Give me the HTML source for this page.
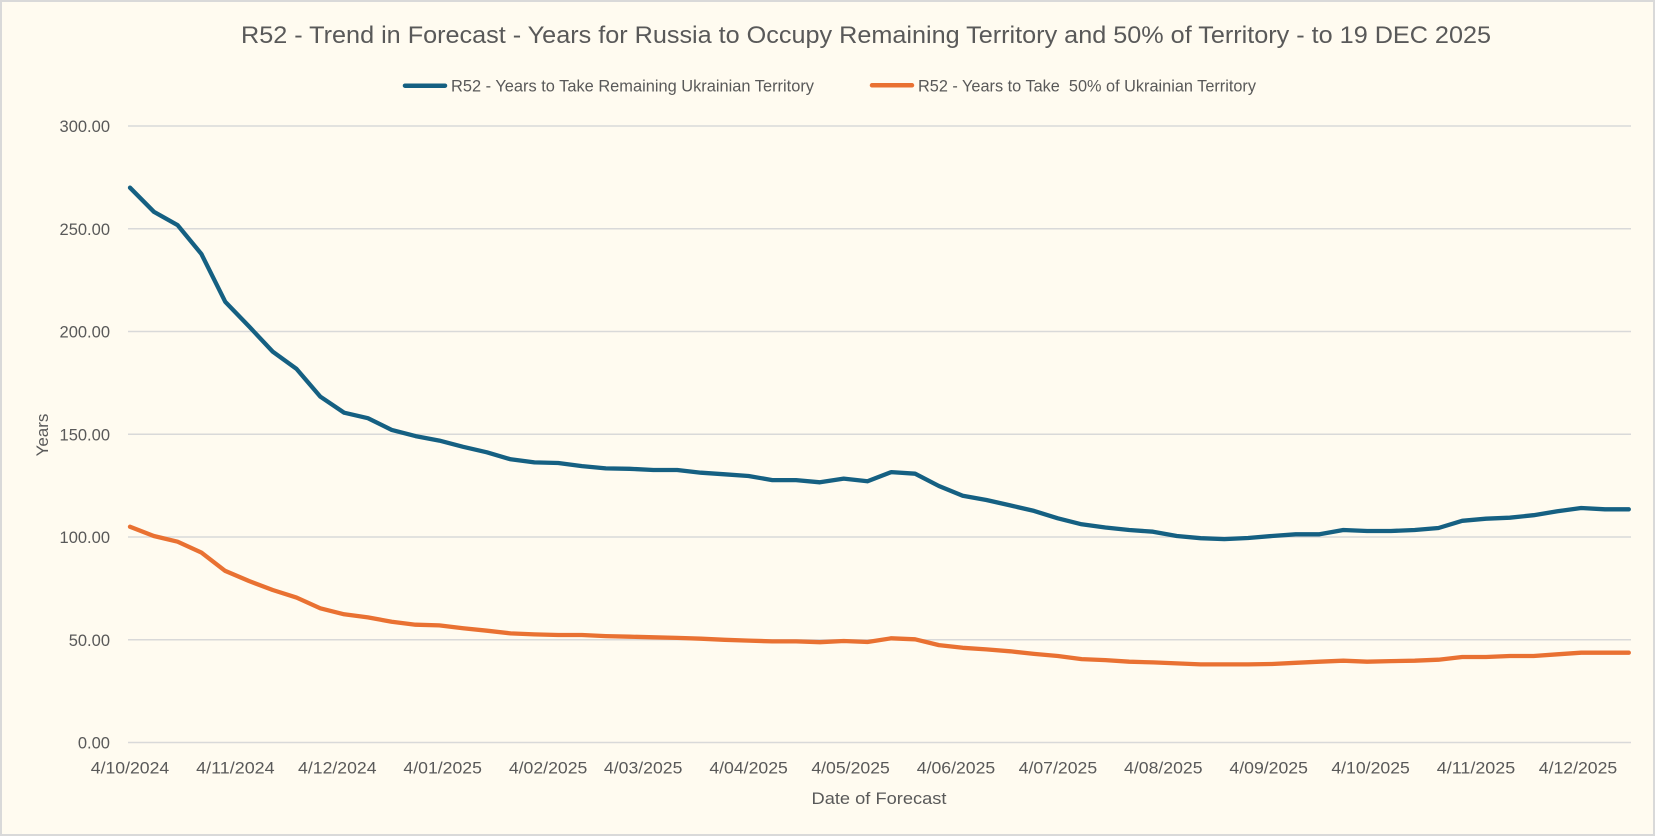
<!DOCTYPE html>
<html>
<head>
<meta charset="utf-8">
<style>
  html, body { margin: 0; padding: 0; background: #fffbf0; }
  svg { display: block; }
  text { font-family: "Liberation Sans", Arial, sans-serif; fill: #595959; }
</style>
</head>
<body>
<svg width="1655" height="836" viewBox="0 0 1655 836" xmlns="http://www.w3.org/2000/svg">
  <rect x="0" y="0" width="1655" height="836" fill="#fffbf0"/>
  <rect x="1" y="1" width="1653" height="834" fill="none" stroke="#d9d9d9" stroke-width="2"/>

  <!-- Title -->
  <text x="241" y="43" font-size="24" textLength="1250" lengthAdjust="spacingAndGlyphs">R52 - Trend in Forecast - Years for Russia to Occupy Remaining Territory and 50% of Territory - to 19 DEC 2025</text>

  <!-- Legend -->
  <line x1="405" y1="85.7" x2="445" y2="85.7" stroke="#156082" stroke-width="4.5" stroke-linecap="round"/>
  <text x="451" y="91.5" font-size="16.5" textLength="363" lengthAdjust="spacingAndGlyphs">R52 - Years to Take Remaining Ukrainian Territory</text>
  <line x1="872" y1="85.3" x2="912" y2="85.3" stroke="#e97132" stroke-width="4.5" stroke-linecap="round"/>
  <text x="918" y="91.5" font-size="16.5" textLength="338" lengthAdjust="spacingAndGlyphs">R52 - Years to Take&#160; 50% of Ukrainian Territory</text>

  <!-- Gridlines -->
  <g stroke="#d9d9d9" stroke-width="1.6">
    <line x1="128" y1="126" x2="1631" y2="126"/>
    <line x1="128" y1="228.75" x2="1631" y2="228.75"/>
    <line x1="128" y1="331.5" x2="1631" y2="331.5"/>
    <line x1="128" y1="434.25" x2="1631" y2="434.25"/>
    <line x1="128" y1="537" x2="1631" y2="537"/>
    <line x1="128" y1="639.75" x2="1631" y2="639.75"/>
    <line x1="128" y1="742.5" x2="1631" y2="742.5"/>
  </g>

  <!-- Y tick labels -->
  <g font-size="16.5" text-anchor="end">
    <text x="110" y="132">300.00</text>
    <text x="110" y="234.75">250.00</text>
    <text x="110" y="337.5">200.00</text>
    <text x="110" y="440.25">150.00</text>
    <text x="110" y="543">100.00</text>
    <text x="110" y="645.75">50.00</text>
    <text x="110" y="748.5">0.00</text>
  </g>

  <!-- Y axis title -->
  <text transform="translate(48,435) rotate(-90)" font-size="17" text-anchor="middle">Years</text>

  <!-- X tick labels -->
  <g font-size="16.5" text-anchor="middle">
    <text x="130" y="773.3" textLength="78.5" lengthAdjust="spacingAndGlyphs">4/10/2024</text>
    <text x="235.4" y="773.3" textLength="78.5" lengthAdjust="spacingAndGlyphs">4/11/2024</text>
    <text x="337.3" y="773.3" textLength="78.5" lengthAdjust="spacingAndGlyphs">4/12/2024</text>
    <text x="442.7" y="773.3" textLength="78.5" lengthAdjust="spacingAndGlyphs">4/01/2025</text>
    <text x="548.1" y="773.3" textLength="78.5" lengthAdjust="spacingAndGlyphs">4/02/2025</text>
    <text x="643.2" y="773.3" textLength="78.5" lengthAdjust="spacingAndGlyphs">4/03/2025</text>
    <text x="748.6" y="773.3" textLength="78.5" lengthAdjust="spacingAndGlyphs">4/04/2025</text>
    <text x="850.6" y="773.3" textLength="78.5" lengthAdjust="spacingAndGlyphs">4/05/2025</text>
    <text x="956.0" y="773.3" textLength="78.5" lengthAdjust="spacingAndGlyphs">4/06/2025</text>
    <text x="1057.9" y="773.3" textLength="78.5" lengthAdjust="spacingAndGlyphs">4/07/2025</text>
    <text x="1163.3" y="773.3" textLength="78.5" lengthAdjust="spacingAndGlyphs">4/08/2025</text>
    <text x="1268.7" y="773.3" textLength="78.5" lengthAdjust="spacingAndGlyphs">4/09/2025</text>
    <text x="1370.6" y="773.3" textLength="78.5" lengthAdjust="spacingAndGlyphs">4/10/2025</text>
    <text x="1476.0" y="773.3" textLength="78.5" lengthAdjust="spacingAndGlyphs">4/11/2025</text>
    <text x="1578.0" y="773.3" textLength="78.5" lengthAdjust="spacingAndGlyphs">4/12/2025</text>
  </g>

  <!-- X axis title -->
  <text x="879" y="804" font-size="17" text-anchor="middle" textLength="135" lengthAdjust="spacingAndGlyphs">Date of Forecast</text>

  <!-- Series: Remaining territory (blue) -->
  <polyline fill="none" stroke="#156082" stroke-width="4.3" stroke-linejoin="round" stroke-linecap="round"
    points="130.0,187.7 153.8,211.7 177.6,225.1 201.4,254.0 225.2,301.7 249.0,326.4 272.7,351.6 296.5,368.9 320.3,396.6 344.1,412.7 367.9,418.2 391.7,429.9 415.5,436.1 439.3,440.6 463.1,446.8 486.9,452.3 510.6,459.3 534.4,462.4 558.2,463.0 582.0,466.1 605.8,468.4 629.6,468.8 653.4,470.0 677.2,470.0 701.0,472.7 724.8,474.3 748.5,476.0 772.3,480.1 796.1,480.1 819.9,482.3 843.7,478.6 867.5,481.3 891.3,472.1 915.1,473.7 938.9,486.0 962.7,495.7 986.4,500.0 1010.2,505.4 1034.0,510.9 1057.8,518.3 1081.6,524.3 1105.4,527.5 1129.2,530.0 1153.0,531.7 1176.8,536.0 1200.6,538.2 1224.3,539.1 1248.1,538.0 1271.9,536.0 1295.7,534.3 1319.5,534.3 1343.3,530.0 1367.1,531.0 1390.9,531.0 1414.7,530.0 1438.5,528.0 1462.2,520.8 1486.0,518.7 1509.8,517.7 1533.6,515.2 1557.4,511.3 1581.2,508.0 1605.0,509.3 1628.8,509.3"/>

  <!-- Series: 50% territory (orange) -->
  <polyline fill="none" stroke="#e97132" stroke-width="4.3" stroke-linejoin="round" stroke-linecap="round"
    points="130.0,526.7 153.8,536.0 177.6,541.7 201.4,552.6 225.2,570.9 249.0,581.0 272.7,590.0 296.5,597.6 320.3,608.3 344.1,614.3 367.9,617.4 391.7,621.7 415.5,624.7 439.3,625.4 463.1,628.2 486.9,630.7 510.6,633.4 534.4,634.4 558.2,635.0 582.0,635.0 605.8,636.1 629.6,636.7 653.4,637.3 677.2,637.9 701.0,638.7 724.8,639.8 748.5,640.6 772.3,641.4 796.1,641.4 819.9,642.2 843.7,641.0 867.5,642.0 891.3,638.3 915.1,639.3 938.9,645.1 962.7,647.8 986.4,649.4 1010.2,651.3 1034.0,653.9 1057.8,656.0 1081.6,659.1 1105.4,660.1 1129.2,661.7 1153.0,662.4 1176.8,663.4 1200.6,664.4 1224.3,664.4 1248.1,664.4 1271.9,664.0 1295.7,662.8 1319.5,661.7 1343.3,660.7 1367.1,661.7 1390.9,661.1 1414.7,660.7 1438.5,659.7 1462.2,657.0 1486.0,657.0 1509.8,656.0 1533.6,656.0 1557.4,654.3 1581.2,652.7 1605.0,652.7 1628.8,652.7"/>
</svg>
</body>
</html>
